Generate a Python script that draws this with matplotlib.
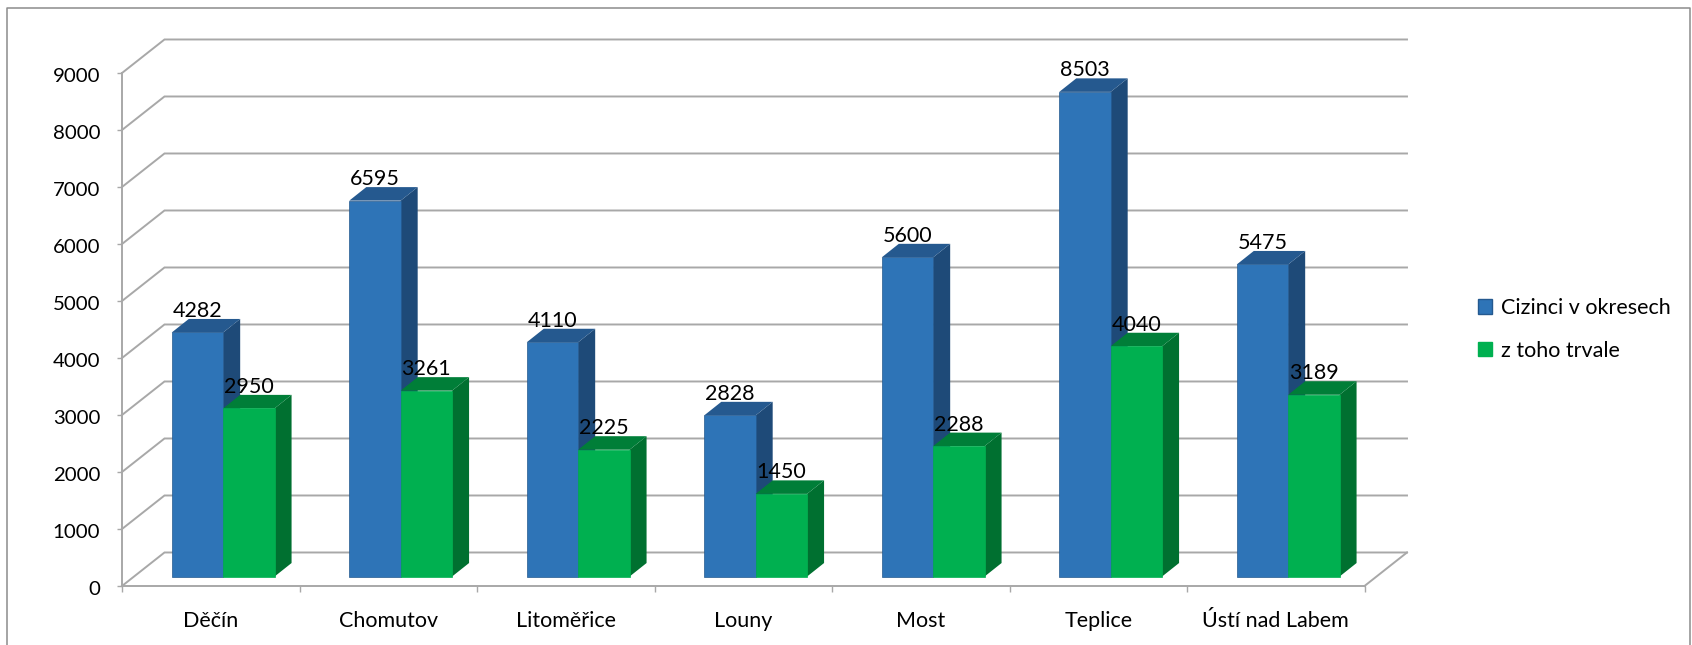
import matplotlib
matplotlib.use("Agg")
import matplotlib.pyplot as plt
from matplotlib.lines import Line2D
from matplotlib.patches import Patch, Polygon
from matplotlib.transforms import ScaledTranslation

plt.rcParams['font.family'] = ['Lato', 'DejaVu Sans']

districts = ['Děčín', 'Chomutov', 'Litoměřice', 'Louny', 'Most', 'Teplice',
             'Ústí nad Labem']
foreigners = [4282, 6595, 4110, 2828, 5600, 8503, 5475]
permanent = [2950, 3261, 2225, 1450, 2288, 4040, 3189]
y_ticks = list(range(0, 10000, 1000))
series_names = ['Cizinci v okresech', 'z toho trvale']

W, H = 1692, 645
GRID = '#A8A8A8'
FONT = 15.5

# colours: front, top, side, outline
BLUE = ('#2E74B7', '#25598F', '#1E4A78', '#24598F')
GREEN = ('#00B050', '#007E38', '#007030', '#00B050')

# oblique depth, in data units (x = categories, y = values)
wall_dx, wall_dy = 0.2394, 588
bar_x0, bar_y0 = 0.07, 166
bar_dx, bar_dy = 0.0958, 237
bar_w = 0.2895


def draw_bar(ax, x, value, colors):
    x1 = x + bar_w
    y0, y1 = bar_y0, bar_y0 + value
    side = [(x1, y0), (x1 + bar_dx, y0 + bar_dy),
            (x1 + bar_dx, y1 + bar_dy), (x1, y1)]
    top = [(x, y1), (x + bar_dx, y1 + bar_dy),
           (x1 + bar_dx, y1 + bar_dy), (x1, y1)]
    front = [(x, y0), (x1, y0), (x1, y1), (x, y1)]
    ax.add_patch(Polygon(side, fc=colors[2], ec='none', zorder=3, clip_on=False))
    ax.add_patch(Polygon(top, fc=colors[1], ec='none', zorder=3, clip_on=False))
    ax.add_patch(Polygon(front, fc=colors[0], ec=colors[3], lw=0.5, zorder=3,
                         clip_on=False))
    ax.annotate(str(value), (x + bar_w / 2, y1), xytext=(0, 15.5),
                textcoords='offset points', ha='center', va='center',
                fontsize=FONT, color='black', zorder=5)


fig = plt.figure(figsize=(W / 100, H / 100), dpi=100)
ax = fig.add_axes([122 / W, 1 - 586 / H, (1364.5 - 122) / W, (586 - 73) / H])
ax.set_xlim(0, len(districts))
ax.set_ylim(0, 9000)

# walls and floor
n = len(districts)
for v in y_ticks:
    ax.plot([0, wall_dx, n + wall_dx], [v, v + wall_dy, v + wall_dy],
            color=GRID, lw=1.4, zorder=1, clip_on=False,
            solid_joinstyle='miter')
ax.plot([n, n + wall_dx], [0, wall_dy], color=GRID, lw=1.4, zorder=1, clip_on=False)

for i in range(n):
    cx = i + bar_x0 + 0.5 - bar_w
    draw_bar(ax, cx, foreigners[i], BLUE)
    draw_bar(ax, cx + bar_w, permanent[i], GREEN)

for s in ['top', 'right']:
    ax.spines[s].set_visible(False)
for s in ['left', 'bottom']:
    ax.spines[s].set_color(GRID)
    ax.spines[s].set_linewidth(1.4)
ax.patch.set_alpha(0)

ax.set_yticks(y_ticks)
ax.set_yticklabels([str(v) for v in y_ticks])
ax.set_xticks(range(n + 1))
ax.set_xticklabels([])
ax.set_xticks([i + 0.5 for i in range(n)], minor=True)
ax.set_xticklabels(districts, minor=True)
ax.tick_params(axis='y', length=3.6, width=1, color=GRID, pad=12, labelsize=14.7)
ax.tick_params(axis='x', which='major', length=4.5, width=1, color=GRID)
ax.tick_params(axis='x', which='minor', length=0, pad=18, labelsize=FONT)

# y labels sit a little below their ticks in the original
nudge = ScaledTranslation(0, -1.5 / 72, fig.dpi_scale_trans)
for label in ax.get_yticklabels():
    label.set_transform(label.get_transform() + nudge)

handles = [Patch(fc=BLUE[0], ec=BLUE[3], lw=1), Patch(fc=GREEN[0], ec=GREEN[0], lw=1)]
fig.legend(handles, series_names, loc='center left',
           bbox_to_anchor=(1470 / W, 1 - 329.5 / H), frameon=False, fontsize=FONT,
           handlelength=0.65, handleheight=0.65, handletextpad=0.41,
           labelspacing=1.05, borderpad=0.36, borderaxespad=0)

# chart frame, no bottom edge in the crop
frame_x = [7 / W, 7 / W, 1690 / W, 1690 / W]
frame_y = [0, 1 - 8 / H, 1 - 8 / H, 0]
fig.add_artist(Line2D(frame_x, frame_y, color='#8C8C8C', lw=1.1))

fig.savefig('out.png', dpi=100)
